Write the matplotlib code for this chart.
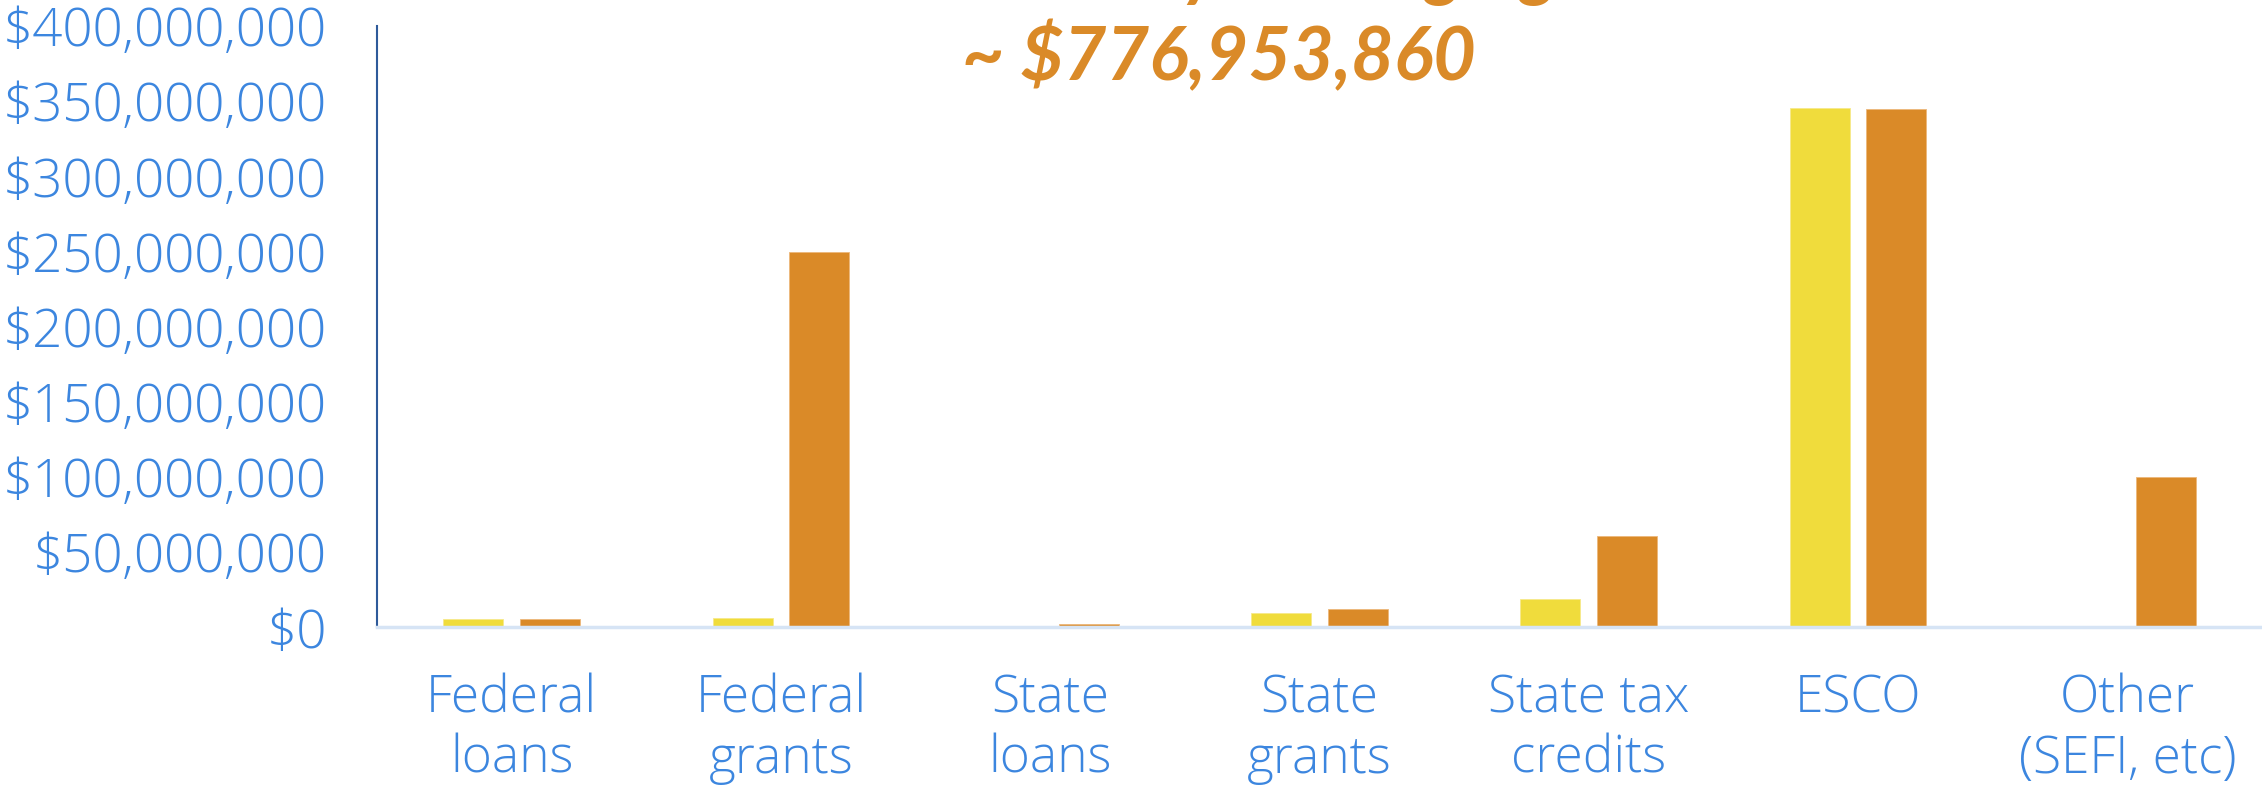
import matplotlib
matplotlib.use("Agg")
import matplotlib.pyplot as plt
import numpy as np
from matplotlib.ticker import FuncFormatter

# values in $ millions
categories = ['Federal\nloans', 'Federal\ngrants', 'State\nloans', 'State\ngrants',
              'State tax\ncredits', 'ESCO', 'Other\n(SEFI, etc)']
current_funding = [5.3, 6.2, 0.0, 9.5, 18.8, 345.4, 0.0]
potential_funding = [5.3, 249.5, 2.2, 12.2, 60.8, 344.8, 99.8]
y_ticks = [0, 50, 100, 150, 200, 250, 300, 350, 400]
title_lines = ['Potentially leveraging', '~ $776,953,860']

yellow = '#F0DC3C'
orange = '#DA8A28'
blue = '#3C86DF'

plt.rcParams['font.family'] = ['Open Sans', 'DejaVu Sans']

fig = plt.figure(figsize=(22.62, 7.88), dpi=100)
ax = fig.add_axes([377 / 2262, 160.7 / 788, 1 - 377 / 2262, 601.3 / 788])

x = np.arange(len(categories))
w = 0.223
off = 0.1425
ax.bar(x - off, current_funding, width=w, color=yellow, edgecolor='#F6E98A', linewidth=0.6)
ax.bar(x + off, potential_funding, width=w, color=orange, edgecolor='#EDB77A', linewidth=0.6)

ax.set_xlim(-0.5, len(categories) - 0.5)
ax.set_ylim(0, 400)
ax.set_yticks(y_ticks)
ax.yaxis.set_major_formatter(FuncFormatter(lambda v, p: f"${v * 1e6:,.0f}"))
ax.set_xticks(x)
ax.set_xticklabels(categories, linespacing=1.22)

ax.tick_params(axis='y', length=0, pad=36, labelsize=38, labelcolor=blue)
ax.tick_params(axis='x', length=0, pad=33, labelsize=37, labelcolor=blue)
for lab in ax.get_xticklabels() + ax.get_yticklabels():
    lab.set_fontweight('light')

for s in ['top', 'right']:
    ax.spines[s].set_visible(False)
ax.spines['left'].set_color('#2E5A9A')
ax.spines['left'].set_linewidth(1.5)
ax.spines['bottom'].set_color('#D6E4F5')
ax.spines['bottom'].set_linewidth(2.5)

fig.text(1219 / 2262, 1 + 8 / 788, title_lines[0], ha='center', va='baseline', family='Lato',
         fontsize=53, fontweight='bold', fontstyle='italic', color=orange)
fig.text(1219 / 2262, 1 - 80 / 788, title_lines[1], ha='center', va='baseline', family='Lato',
         fontsize=53, fontweight='bold', fontstyle='italic', color=orange)

fig.savefig('out.png', dpi=100)
